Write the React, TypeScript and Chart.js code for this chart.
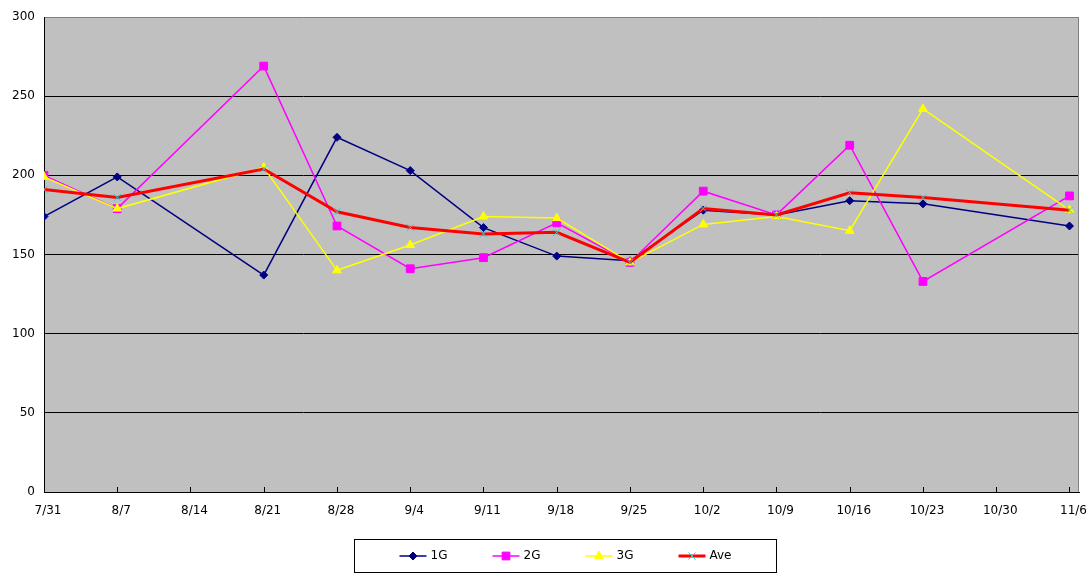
import React, { useEffect, useRef } from 'react';
import { Chart, registerables } from 'chart.js';
import { drawPoint } from 'chart.js/helpers';

Chart.register(...registerables);

const labels = ['7/31', '8/7', '8/14', '8/21', '8/28', '9/4', '9/11', '9/18', '9/25', '10/2', '10/9', '10/16', '10/23', '10/30', '11/6'];
const g1 = [174, 199, null, 137, 224, 203, 167, 149, 146, 178, 175, 184, 182, null, 168];
const g2 = [200, 179, null, 269, 168, 141, 148, 170, 145, 190, 175, 219, 133, null, 187];
const g3 = [199, 179, null, 205, 140, 156, 174, 173, 145, 169, 174, 165, 242, null, 178];
const ave = [191, 186, null, 204, 177, 167, 163, 164, 145, 179, 175, 189, 186, null, 178];
const yTicks = [0, 50, 100, 150, 200, 250, 300];

const FONT = '"DejaVu Sans", "Liberation Sans", Arial, sans-serif';
const FONT_SIZE = 12;

const series = [
  { label: '1G', values: g1, color: '#000080', pointColor: '#000080', style: 'rectRot', radius: 4, width: 1.5, order: 4 },
  { label: '2G', values: g2, color: '#FF00FF', pointColor: '#FF00FF', style: 'rect', radius: 5.5, width: 1.5, order: 3 },
  { label: '3G', values: g3, color: '#FFFF00', pointColor: '#FFFF00', style: 'triangle', radius: 5, width: 1.5, order: 2 },
  { label: 'Ave', values: ave, color: '#FF0000', pointColor: '#33CCCC', style: 'crossRot', radius: 5, width: 3, order: 1 },
];

const decoPlugin = {
  id: 'deco',
  beforeDraw(chart: any) {
    const { ctx, chartArea: a } = chart;
    ctx.save();
    ctx.fillStyle = '#C0C0C0';
    ctx.fillRect(a.left, a.top, a.right - a.left, a.bottom - a.top);
    ctx.restore();
  },
  beforeDatasetsDraw(chart: any) {
    const { ctx, chartArea: a } = chart;
    const xs = chart.scales.x;
    ctx.save();
    ctx.strokeStyle = '#000';
    ctx.lineWidth = 1;
    ctx.beginPath();
    labels.forEach((_, i) => {
      const px = Math.round(xs.getPixelForValue(i)) + 0.5;
      ctx.moveTo(px, a.bottom);
      ctx.lineTo(px, a.bottom - 5);
    });
    ctx.stroke();
    ctx.strokeStyle = '#808080';
    ctx.beginPath();
    ctx.moveTo(Math.round(a.right) - 0.5, a.top);
    ctx.lineTo(Math.round(a.right) - 0.5, a.bottom);
    ctx.stroke();
    ctx.restore();
  },
  afterDraw(chart: any) {
    const { ctx, chartArea: a } = chart;
    ctx.save();
    ctx.font = `${FONT_SIZE}px ${FONT}`;
    const spacing = 93;
    const lineLen = 27;
    const gap = 4;
    const lastW = ctx.measureText(series[series.length - 1].label).width;
    const contentW = spacing * (series.length - 1) + lineLen + gap + lastW;
    const pad = 45;
    const boxW = contentW + pad * 2;
    const boxH = 33;
    const cx = (a.left + a.right) / 2 + 3;
    const boxX = Math.round(cx - boxW / 2) + 0.5;
    const boxY = 539.5;
    ctx.fillStyle = '#FFFFFF';
    ctx.fillRect(boxX, boxY, boxW, boxH);
    ctx.strokeStyle = '#000';
    ctx.lineWidth = 1;
    ctx.strokeRect(boxX, boxY, boxW, boxH);
    const cy = boxY + boxH / 2;
    series.forEach((s, i) => {
      const x0 = boxX + pad + i * spacing;
      ctx.strokeStyle = s.color;
      ctx.lineWidth = s.width;
      ctx.beginPath();
      ctx.moveTo(x0, cy);
      ctx.lineTo(x0 + lineLen, cy);
      ctx.stroke();
      ctx.fillStyle = s.pointColor;
      ctx.strokeStyle = s.pointColor;
      ctx.lineWidth = 1;
      drawPoint(ctx, { pointStyle: s.style as any, radius: s.radius, rotation: 0, borderWidth: 1 } as any, x0 + lineLen / 2, cy);
      ctx.fillStyle = '#000';
      ctx.textBaseline = 'middle';
      ctx.textAlign = 'left';
      ctx.fillText(s.label, x0 + lineLen + gap, cy);
    });
    ctx.restore();
  },
};

export default function App() {
  const ref = useRef<HTMLCanvasElement>(null);
  useEffect(() => {
    if (!ref.current) return;
    const chart = new Chart(ref.current, {
      type: 'line',
      data: {
        datasets: series.map((s) => ({
          label: s.label,
          data: s.values.map((v, i) => ({ x: i, y: v })),
          borderColor: s.color,
          backgroundColor: s.pointColor,
          borderWidth: s.width,
          pointStyle: s.style as any,
          pointRadius: s.radius,
          pointBackgroundColor: s.pointColor,
          pointBorderColor: s.pointColor,
          pointBorderWidth: 1,
          tension: 0,
          spanGaps: true,
          fill: false,
          order: s.order,
        })),
      },
      options: {
        animation: false,
        responsive: false,
        devicePixelRatio: 1,
        layout: { padding: { top: 17, right: 13, left: 0, bottom: 0 } },
        plugins: { legend: { display: false }, tooltip: { enabled: false }, title: { display: false } },
        scales: {
          x: {
            type: 'linear',
            min: 0,
            max: 14.13,
            afterBuildTicks: (scale: any) => {
              scale.ticks = labels.map((_, i) => ({ value: i }));
            },
            afterFit: (scale: any) => {
              scale.height = 93;
              scale.paddingLeft = 0;
              scale.paddingRight = 0;
            },
            ticks: {
              autoSkip: false,
              maxRotation: 0,
              padding: 12,
              labelOffset: 4,
              color: '#000',
              font: { family: FONT, size: FONT_SIZE },
              callback: (v: any) => labels[v as number] ?? '',
            },
            grid: { display: false, drawTicks: false },
            border: { display: true, color: '#000', width: 1 },
          },
          y: {
            min: 0,
            max: 300,
            afterBuildTicks: (scale: any) => {
              scale.ticks = yTicks.map((v) => ({ value: v }));
            },
            afterFit: (scale: any) => {
              scale.width = 44;
              scale.paddingTop = 0;
              scale.paddingBottom = 0;
            },
            ticks: {
              padding: 9,
              color: '#000',
              font: { family: FONT, size: FONT_SIZE },
            },
            grid: {
              drawTicks: false,
              color: (c: any) => (c.tick && c.tick.value === 300 ? '#808080' : '#000000'),
              lineWidth: 1,
            },
            border: { display: true, color: '#000', width: 1 },
          },
        },
      },
      plugins: [decoPlugin],
    });
    return () => chart.destroy();
  }, []);
  return (
    <div style={{ position: 'absolute', left: 0, top: 0, width: 1092, height: 585, background: '#fff' }}>
      <canvas ref={ref} width={1092} height={585} style={{ display: 'block' }} />
    </div>
  );
}
